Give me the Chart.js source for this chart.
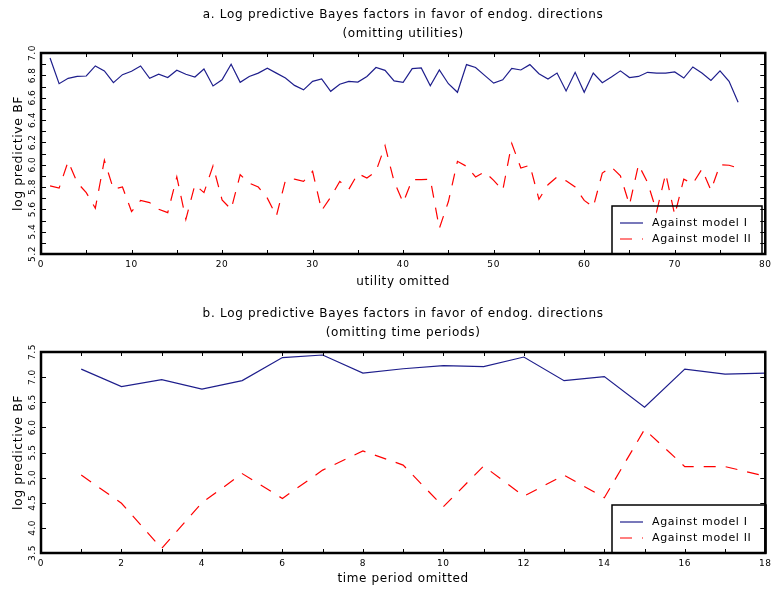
<!DOCTYPE html>
<html>
<head>
<meta charset="utf-8">
<script src="https://cdn.jsdelivr.net/npm/chart.js@4.4.0/dist/chart.umd.min.js"></script>
<style>
html, body { margin: 0; padding: 0; background: #fff; }
.panel { position: absolute; left: 0; width: 776px; height: 297px; }
</style>
</head>
<body>
<div class="panel" style="top:0"><canvas id="chartA" width="776" height="297"></canvas></div>
<div class="panel" style="top:297px"><canvas id="chartB" width="776" height="297"></canvas></div>
<script>
// panel a: one point per omitted utility
var utilities = [1,2,3,4,5,6,7,8,9,10,11,12,13,14,15,16,17,18,19,20,21,22,23,24,25,26,27,28,29,30,31,32,33,34,35,36,37,38,39,40,
  41,42,43,44,45,46,47,48,49,50,51,52,53,54,55,56,57,58,59,60,61,62,63,64,65,66,67,68,69,70,71,72,73,74,75,76,77];
var utilModel1 = [6.955,6.725,6.773,6.79,6.794,6.884,6.84,6.734,6.806,6.836,6.884,6.773,6.81,6.78,6.845,6.81,6.785,6.857,6.705,6.76,
  6.90,6.737,6.79,6.82,6.863,6.82,6.776,6.71,6.67,6.746,6.767,6.657,6.72,6.746,6.74,6.79,6.87,6.845,6.75,6.737,
  6.86,6.866,6.707,6.848,6.725,6.648,6.896,6.87,6.80,6.73,6.76,6.862,6.848,6.896,6.815,6.767,6.82,6.66,6.827,6.648,
  6.82,6.734,6.785,6.84,6.78,6.79,6.827,6.82,6.82,6.83,6.776,6.875,6.82,6.755,6.84,6.746,6.558];
var utilModel2 = [5.81,5.79,6.03,5.84,5.75,5.61,6.04,5.78,5.80,5.58,5.68,5.66,5.60,5.57,5.89,5.51,5.82,5.75,5.99,5.685,
  5.60,5.91,5.835,5.80,5.70,5.54,5.86,5.87,5.85,5.94,5.59,5.71,5.85,5.78,5.92,5.88,5.94,6.17,5.85,5.66,
  5.865,5.866,5.87,5.43,5.67,6.03,5.985,5.89,5.935,5.86,5.77,6.19,5.97,5.995,5.69,5.82,5.89,5.855,5.80,5.68,
  5.62,5.925,5.98,5.90,5.64,6.00,5.84,5.58,5.92,5.55,5.87,5.83,5.96,5.77,6.00,5.995,5.97];

// panel b: one point per omitted time period
var periods = [1,2,3,4,5,6,7,8,9,10,11,12,13,14,15,16,17,18];
var periodModel1 = [7.16,6.81,6.95,6.76,6.93,7.39,7.44,7.08,7.167,7.23,7.21,7.40,6.93,7.01,6.40,7.16,7.06,7.08];
var periodModel2 = [5.05,4.49,3.59,4.50,5.08,4.585,5.15,5.53,5.25,4.42,5.23,4.63,5.05,4.60,5.96,5.22,5.22,5.03];

var seriesNames = ['Against model I', 'Against model II'];
var yTitle = 'log predictive BF';

var BLUE = '#1e1e8c';
var RED = '#ff0000';
var DASH = [12, 10];
var FONT = 'DejaVu Sans';

function pairs(xs, ys) {
  return xs.map(function(x, i) { return {x: x, y: ys[i]}; });
}

// frame, inward ticks, rotated y labels, two-line title and boxed legend
var framePlugin = {
  id: 'frame',
  beforeDraw: function(chart) {
    // the original lettering is wide, so spread every text a little
    chart.ctx.letterSpacing = '0.6px';
  },
  afterDraw: function(chart, args, opts) {
    var ctx = chart.ctx;
    var a = chart.chartArea;
    var xs = chart.scales.x, ys = chart.scales.y;
    ctx.save();
    ctx.strokeStyle = '#000';
    ctx.lineWidth = 1;
    ctx.beginPath();
    xs.ticks.forEach(function(t) {
      var px = Math.round(xs.getPixelForValue(t.value)) + 0.5;
      ctx.moveTo(px, a.bottom); ctx.lineTo(px, a.bottom - 4);
      ctx.moveTo(px, a.top); ctx.lineTo(px, a.top + 4);
    });
    ys.ticks.forEach(function(t) {
      var py = Math.round(ys.getPixelForValue(t.value)) + 0.5;
      ctx.moveTo(a.left, py); ctx.lineTo(a.left + 5, py);
      ctx.moveTo(a.right, py); ctx.lineTo(a.right - 5, py);
    });
    ctx.stroke();

    ctx.lineWidth = 2.5;
    ctx.strokeRect(a.left, a.top, a.right - a.left, a.bottom - a.top);

    // y tick labels, reading bottom to top
    ctx.fillStyle = '#000';
    ctx.letterSpacing = '0.5px';
    ctx.font = '9px "' + FONT + '"';
    ctx.textAlign = 'center';
    ctx.textBaseline = 'middle';
    ys.ticks.forEach(function(t) {
      var lab = opts.yLabel(t.value);
      if (!lab) return;
      ctx.save();
      ctx.translate(a.left - 8, ys.getPixelForValue(t.value));
      ctx.rotate(-Math.PI / 2);
      ctx.fillText(lab, 0, 0);
      ctx.restore();
    });

    // title
    ctx.letterSpacing = '0.7px';
    ctx.font = '12px "' + FONT + '"';
    var cx = (a.left + a.right) / 2;
    ctx.fillText(opts.title[0], cx, a.top - 38);
    ctx.fillText(opts.title[1], cx, a.top - 38 + 18.5);

    // legend
    var bx = a.left + 571, by = a.bottom - opts.legendH;
    ctx.lineWidth = 1.5;
    ctx.strokeRect(bx, by, opts.legendW, opts.legendH);
    ctx.letterSpacing = '0.65px';
    ctx.font = '11px "' + FONT + '"';
    ctx.textAlign = 'left';
    chart.data.datasets.forEach(function(ds, i) {
      var ly = by + 17 + i * 16;
      ctx.strokeStyle = ds.borderColor;
      ctx.lineWidth = ds.borderWidth;
      ctx.setLineDash(ds.borderDash || []);
      ctx.beginPath();
      ctx.moveTo(bx + 8, ly); ctx.lineTo(bx + 31, ly);
      ctx.stroke();
      ctx.setLineDash([]);
      ctx.fillStyle = '#000';
      ctx.fillText(ds.label, bx + 40, ly);
    });
    ctx.restore();
  }
};

function makeChart(id, cfg) {
  return new Chart(document.getElementById(id), {
    type: 'line',
    data: {
      datasets: [
        { label: seriesNames[0], data: pairs(cfg.x, cfg.y1), borderColor: BLUE, borderWidth: 1.2,
          pointRadius: 0, tension: 0, fill: false },
        { label: seriesNames[1], data: pairs(cfg.x, cfg.y2), borderColor: RED, borderWidth: 1.2,
          borderDash: DASH, pointRadius: 0, tension: 0, fill: false }
      ]
    },
    options: {
      responsive: false,
      animation: false,
      layout: { padding: { left: 0, right: cfg.padRight, top: cfg.padTop, bottom: 0 } },
      plugins: {
        legend: { display: false },
        tooltip: { enabled: false },
        title: { display: false },
        frame: { title: cfg.title, yLabel: cfg.yLabel, legendW: cfg.legendW, legendH: 48 }
      },
      scales: {
        x: {
          type: 'linear', min: cfg.xMin, max: cfg.xMax,
          grid: { display: false, drawTicks: false },
          border: { display: false },
          ticks: {
            stepSize: cfg.xStep, autoSkip: false, maxRotation: 0, padding: 5,
            color: '#000', font: { family: FONT, size: 9 },
            callback: cfg.xLabel
          },
          title: { display: true, text: cfg.xTitle, color: '#000',
                   font: { family: FONT, size: 12 }, padding: { top: 0, bottom: 8 } },
          afterFit: function(s) { s.height = cfg.xHeight; }
        },
        y: {
          type: 'linear', min: cfg.yMin, max: cfg.yMax,
          grid: { display: false, drawTicks: false },
          border: { display: false },
          ticks: { stepSize: cfg.yStep, display: false },
          title: { display: true, text: yTitle, color: '#000',
                   font: { family: FONT, size: 12.5 }, padding: { top: 11, bottom: 0 } },
          afterFit: function(s) { s.width = 41; }
        }
      }
    },
    plugins: [framePlugin]
  });
}

makeChart('chartA', {
  x: utilities, y1: utilModel1, y2: utilModel2,
  xMin: 0, xMax: 80, xStep: 5, yMin: 5.2, yMax: 7.0, yStep: 0.1,
  xLabel: function(v) { return v % 10 === 0 ? String(v) : ''; },
  yLabel: function(v) { return Math.round(v * 10) % 2 === 0 ? v.toFixed(1) : ''; },
  xTitle: 'utility omitted',
  title: ['a. Log predictive Bayes factors in favor of endog. directions', '(omitting utilities)'],
  padTop: 53, padRight: 9, xHeight: 43, legendW: 150
});

makeChart('chartB', {
  x: periods, y1: periodModel1, y2: periodModel2,
  xMin: 0, xMax: 18, xStep: 1, yMin: 3.5, yMax: 7.5, yStep: 0.5,
  xLabel: function(v) { return v % 2 === 0 ? String(v) : ''; },
  yLabel: function(v) { return v.toFixed(1); },
  xTitle: 'time period omitted',
  title: ['b. Log predictive Bayes factors in favor of endog. directions', '(omitting time periods)'],
  padTop: 55, padRight: 10, xHeight: 41, legendW: 154
});
</script>
</body>
</html>
